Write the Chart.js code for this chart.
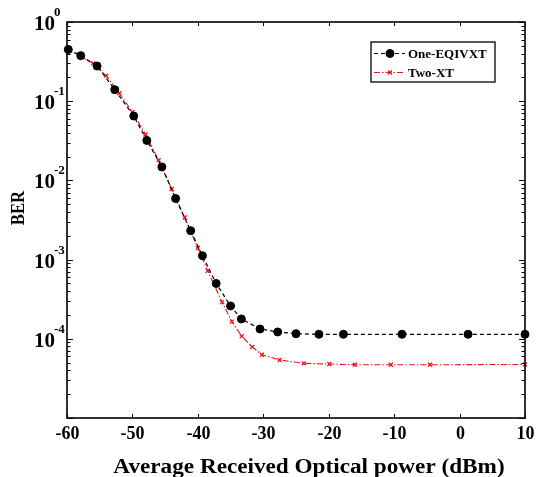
<!DOCTYPE html>
<html>
<head>
<meta charset="utf-8">
<script src="https://cdn.jsdelivr.net/npm/chart.js@4.4.0/dist/chart.umd.min.js"></script>
<style>
  html, body { margin: 0; padding: 0; background: #fff; }
</style>
</head>
<body>
<canvas id="berChart" width="540" height="477"></canvas>
<script>
// tick labels
const xTicks = [-60, -50, -40, -30, -20, -10, 0, 10];
const yDecades = [1, 0.1, 0.01, 0.001, 0.0001];
const yExponents = ['0', '-1', '-2', '-3', '-4'];

// One-EQIVXT (black circles)
const oneX = [-59.8, -57.9, -55.4, -52.7, -49.8, -47.8, -45.5, -43.4, -41.1, -39.3, -37.2,
              -35.0, -33.35, -30.5, -27.8, -25.0, -21.5, -17.75, -8.8, 1.3, 10];
const oneY = [0.45, 0.376, 0.278, 0.14, 0.065, 0.032, 0.0148, 0.0059, 0.00232, 0.00112, 0.0005,
              0.00026, 0.000178, 0.000133, 0.000122, 0.000116, 0.000114, 0.000114, 0.000114, 0.000114, 0.000114];

// Two-XT (red crosses)
const twoX = [-60, -58, -56, -54, -52, -50, -48, -46, -44, -42, -40, -38.5, -36.3, -34.8,
              -33.3, -31.7, -30.2, -27.5, -23.8, -19.9, -16, -10.5, -4.5, 10];
const twoY = [0.45, 0.37, 0.30, 0.21, 0.126, 0.073, 0.038, 0.018, 0.0078, 0.0034, 0.0014, 0.00072, 0.00029, 0.000165,
              0.000108, 0.000079, 0.000063, 0.000054, 0.000049, 0.000048, 0.000047, 0.000047, 0.000047, 0.0000475];

const serif = "'Liberation Serif', 'Times New Roman', serif";

function toPoints(xs, ys) {
  return xs.map((x, i) => ({ x: x, y: ys[i] }));
}

// text squeezed/stretched horizontally to match the original figure
function wideText(ctx, text, x, y, sx) {
  ctx.save();
  ctx.translate(x, y);
  ctx.scale(sx, 1);
  ctx.fillText(text, 0, 0);
  ctx.restore();
}

// axes frame, ticks, labels and legend drawn on top of the chart area
const axesDecor = {
  id: 'axesDecor',
  afterDraw(chart) {
    const ctx = chart.ctx;
    const area = chart.chartArea;
    const xs = chart.scales.x;
    const ys = chart.scales.y;
    ctx.save();
    ctx.strokeStyle = '#000';
    ctx.fillStyle = '#000';
    ctx.lineWidth = 1.6;
    ctx.strokeRect(area.left, area.top, area.right - area.left, area.bottom - area.top);

    // x ticks, inward on top and bottom
    ctx.lineWidth = 1;
    ctx.font = 'bold 18px ' + serif;
    ctx.textAlign = 'center';
    ctx.textBaseline = 'alphabetic';
    xTicks.forEach(v => {
      const px = Math.round(xs.getPixelForValue(v)) + 0.5;
      ctx.beginPath();
      ctx.moveTo(px, area.bottom); ctx.lineTo(px, area.bottom - 4);
      ctx.moveTo(px, area.top); ctx.lineTo(px, area.top + 4);
      ctx.stroke();
      ctx.fillText(String(v), px, 439);
    });

    // y ticks: majors and minors on both sides
    for (let e = -5; e <= 0; e++) {
      for (let m = 1; m <= 9; m++) {
        const v = m * Math.pow(10, e);
        if (v > 1 || v < 1e-5) continue;
        const py = Math.round(ys.getPixelForValue(v)) + 0.5;
        const len = m === 1 ? 6 : 3.5;
        ctx.beginPath();
        ctx.moveTo(area.left, py); ctx.lineTo(area.left + len, py);
        ctx.moveTo(area.right, py); ctx.lineTo(area.right - len, py);
        ctx.stroke();
      }
    }

    // y labels as 10 with superscript exponent
    yDecades.forEach((v, i) => {
      const py = ys.getPixelForValue(v);
      ctx.textBaseline = 'alphabetic';
      ctx.font = 'bold 13px ' + serif;
      ctx.textAlign = 'left';
      ctx.fillText(yExponents[i], 54, py - 6);
      ctx.font = 'bold 21px ' + serif;
      ctx.textAlign = 'right';
      ctx.fillText('10', 55, py + 8);
    });

    // axis titles
    ctx.font = 'bold 20px ' + serif;
    ctx.textAlign = 'center';
    ctx.textBaseline = 'alphabetic';
    wideText(ctx, 'Average Received Optical power (dBm)', 309, 473, 1.16);
    ctx.save();
    ctx.translate(24, 208);
    ctx.rotate(-Math.PI / 2);
    ctx.font = 'bold 19px ' + serif;
    wideText(ctx, 'BER', 0, 0, 0.88);
    ctx.restore();

    // legend box
    const lx = 371, ly = 42, lw = 124, lh = 40;
    ctx.fillStyle = '#fff';
    ctx.fillRect(lx, ly, lw, lh);
    ctx.lineWidth = 1.3;
    ctx.strokeStyle = '#000';
    ctx.strokeRect(lx, ly, lw, lh);
    const rows = [
      { label: 'One-EQIVXT', ds: chart.data.datasets[0], y: 53.5 },
      { label: 'Two-XT', ds: chart.data.datasets[1], y: 72.5 }
    ];
    rows.forEach(r => {
      ctx.strokeStyle = r.ds.borderColor;
      ctx.lineWidth = r.ds.borderWidth;
      ctx.setLineDash(r.ds.borderDash);
      ctx.beginPath();
      ctx.moveTo(374, r.y); ctx.lineTo(405, r.y);
      ctx.stroke();
      ctx.setLineDash([]);
      ctx.fillStyle = r.ds.pointBackgroundColor;
      ctx.strokeStyle = r.ds.pointBorderColor;
      ctx.lineWidth = r.ds.pointBorderWidth;
      Chart.helpers.drawPoint(ctx, {
        pointStyle: r.ds.pointStyle, radius: r.ds.pointRadius, borderWidth: r.ds.pointBorderWidth
      }, 390, r.y);
      ctx.fillStyle = '#000';
      ctx.font = 'bold 13px ' + serif;
      ctx.textAlign = 'left';
      ctx.textBaseline = 'middle';
      ctx.fillText(r.label, 408, r.y + 1);
    });
    ctx.restore();
  }
};

const ctx = document.getElementById('berChart').getContext('2d');
const berChart = new Chart(ctx, {
  type: 'line',
  data: {
    datasets: [
      {
        label: 'One-EQIVXT',
        data: toPoints(oneX, oneY),
        borderColor: '#000',
        borderWidth: 1.2,
        borderDash: [4, 3],
        pointStyle: 'circle',
        pointRadius: 4,
        pointBorderWidth: 1,
        pointBackgroundColor: '#000',
        pointBorderColor: '#000',
        clip: false
      },
      {
        label: 'Two-XT',
        data: toPoints(twoX, twoY),
        borderColor: '#e8141b',
        borderWidth: 1.1,
        borderDash: [6, 2, 1.5, 2],
        pointStyle: 'crossRot',
        pointRadius: 2.8,
        pointBorderWidth: 1.3,
        pointBackgroundColor: '#e8141b',
        pointBorderColor: '#e8141b',
        clip: false
      }
    ]
  },
  options: {
    responsive: false,
    animation: false,
    devicePixelRatio: 1,
    layout: { padding: { left: 67, right: 15, top: 22, bottom: 59 } },
    plugins: {
      legend: { display: false },
      tooltip: { enabled: false }
    },
    scales: {
      x: { type: 'linear', min: -60, max: 10, display: false },
      y: { type: 'logarithmic', min: 1e-5, max: 1, display: false }
    }
  },
  plugins: [axesDecor]
});
</script>
</body>
</html>
